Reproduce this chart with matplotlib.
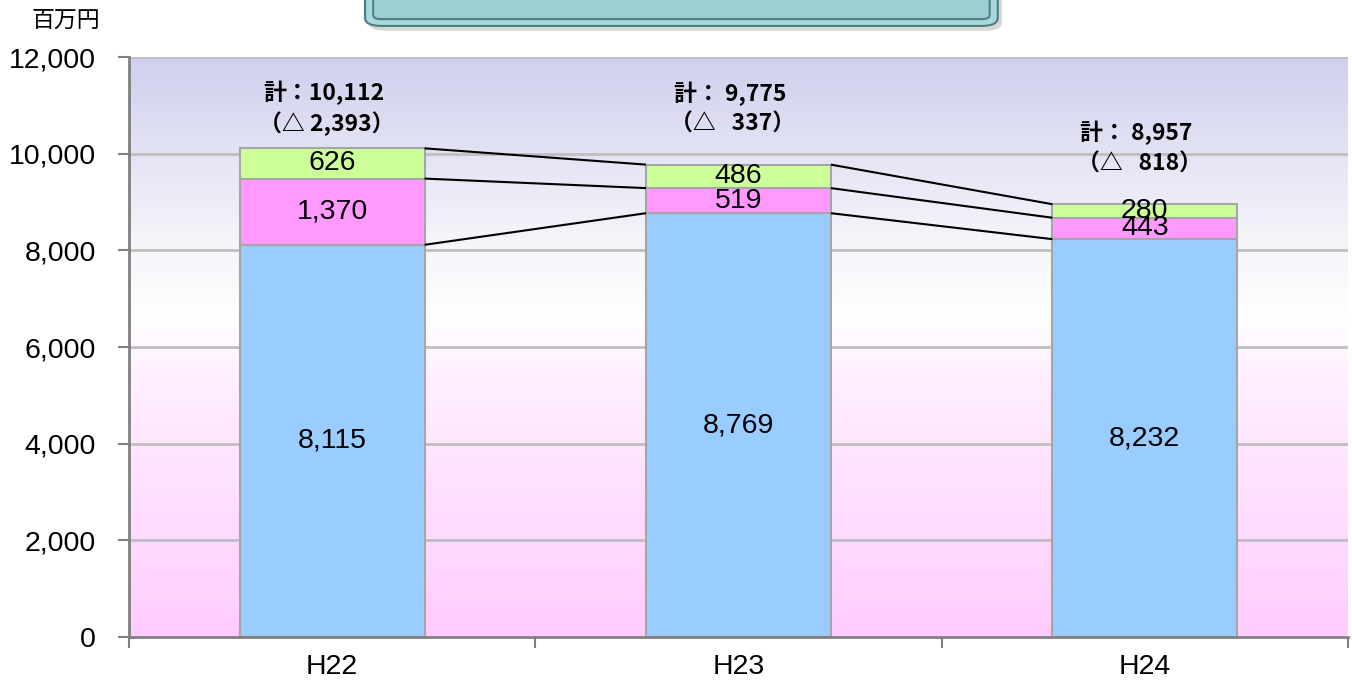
import numpy as np
import matplotlib
matplotlib.use("Agg")
import matplotlib.pyplot as plt
from matplotlib.colors import LinearSegmentedColormap
from matplotlib.patches import FancyBboxPatch

plt.rcParams['font.family'] = ['Liberation Sans', 'Noto Sans CJK JP']

years = ['H22', 'H23', 'H24']
blue_vals = [8115, 8769, 8232]
pink_vals = [1370, 519, 443]
green_vals = [626, 486, 280]
totals = ['10,112', ' 9,775', ' 8,957']
changes = ['△ 2,393', '△   337', '△   818']

x = np.arange(len(years))
width = 0.455

fig = plt.figure(figsize=(13.52, 6.83), dpi=100)
ax = fig.add_axes([0.0954, 0.0673, 0.9016, 0.8492])

# background gradient
cmap = LinearSegmentedColormap.from_list(
    'bg', [(0.0, '#FFCCFF'), (0.45, '#FFF0FF'), (0.55, '#FFFFFF'),
           (0.7, '#F3F3FA'), (1.0, '#D0CFEE')])
grad = np.linspace(0, 1, 256).reshape(-1, 1)
ax.imshow(grad, cmap=cmap, aspect='auto', origin='lower',
          extent=[-0.5, 2.5, 0, 12000], zorder=0)

ax.set_xlim(-0.5, 2.5)
ax.set_ylim(0, 12000)

for yv in range(2000, 12001, 2000):
    ax.axhline(yv, color='#BFBFBF', lw=2, zorder=1)

edge = '#A6A6A6'
ax.bar(x, blue_vals, width, color='#99CCFF', edgecolor=edge, lw=1.5, zorder=3)
ax.bar(x, pink_vals, width, bottom=blue_vals, color='#FF99FF',
       edgecolor=edge, lw=1.5, zorder=3)
bottom2 = [a + b for a, b in zip(blue_vals, pink_vals)]
ax.bar(x, green_vals, width, bottom=bottom2, color='#CCFF99',
       edgecolor=edge, lw=1.5, zorder=3)
tops = [a + b for a, b in zip(bottom2, green_vals)]

# connector lines
for level in (blue_vals, bottom2, tops):
    for i in range(len(x) - 1):
        ax.plot([x[i] + width / 2, x[i + 1] - width / 2], [level[i], level[i + 1]],
                color='black', lw=1.5, zorder=4, solid_capstyle='butt')

# segment labels
for i in range(len(x)):
    ax.text(x[i], blue_vals[i] / 2, f'{blue_vals[i]:,}', ha='center', va='center',
            fontsize=20.5, zorder=5)
    ax.text(x[i], blue_vals[i] + pink_vals[i] / 2, f'{pink_vals[i]:,}', ha='center',
            va='center', fontsize=20.5, zorder=5)
    ax.text(x[i], bottom2[i] + green_vals[i] / 2, f'{green_vals[i]:,}', ha='center',
            va='center', fontsize=20.5, zorder=5)

# total labels (kept inside the plot area)
for i in range(len(x)):
    ly = min(tops[i] + 1470, 11250)
    ax.annotate(f'計：{totals[i]}', xy=(x[i], ly), xytext=(-6, 0),
                textcoords='offset points', ha='center', va='center',
                fontsize=16.5, family=['Noto Sans CJK JP'], weight='bold', zorder=6)
    ax.annotate(f'（{changes[i]}）', xy=(x[i], ly), xytext=(-4, -22),
                textcoords='offset points', ha='center', va='center',
                fontsize=16.5, family=['Noto Sans CJK JP'], weight='bold', zorder=6)

ax.set_xticks([-0.5, 0.5, 1.5, 2.5])
ax.set_xticklabels([])
ax.set_xticks(x, minor=True)
ax.set_xticklabels(years, minor=True, fontsize=20.5)
ax.tick_params(axis='x', which='minor', length=0, pad=12)
ax.tick_params(axis='x', which='major', length=8, width=1.5, color='#808080', direction='out')
ax.set_yticks(range(0, 12001, 2000))
ax.set_yticklabels([f'{v:,}' for v in range(0, 12001, 2000)], fontsize=20.5)
ax.tick_params(axis='y', length=8, width=1.5, color='#808080', direction='out', pad=16)

for s in ('top', 'right'):
    ax.spines[s].set_visible(False)
for s in ('left', 'bottom'):
    ax.spines[s].set_color('#808080')
    ax.spines[s].set_linewidth(2)
    ax.spines[s].set_zorder(7)

fig.text(0.023, 0.97, '百万円', fontsize=16.5, ha='left', va='center')

# title box (cut off at top)
shadow = FancyBboxPatch((0.273, 0.955), 0.468, 0.1, boxstyle='round,pad=0,rounding_size=0.012',
                        transform=fig.transFigure, facecolor='#BBBBBB', edgecolor='none',
                        alpha=0.6, zorder=0)
fig.patches.append(shadow)
box = FancyBboxPatch((0.270, 0.962), 0.468, 0.1, boxstyle='round,pad=0,rounding_size=0.012',
                     transform=fig.transFigure, facecolor='#A8D8DC', edgecolor='#4F7F80',
                     lw=1.5, zorder=1)
fig.patches.append(box)
inner = FancyBboxPatch((0.276, 0.972), 0.456, 0.1, boxstyle='round,pad=0,rounding_size=0.006',
                       transform=fig.transFigure, facecolor='#9CCFD2', edgecolor='#4F7F80',
                       lw=1.5, zorder=2)
fig.patches.append(inner)

fig.savefig('out.png', dpi=100)
